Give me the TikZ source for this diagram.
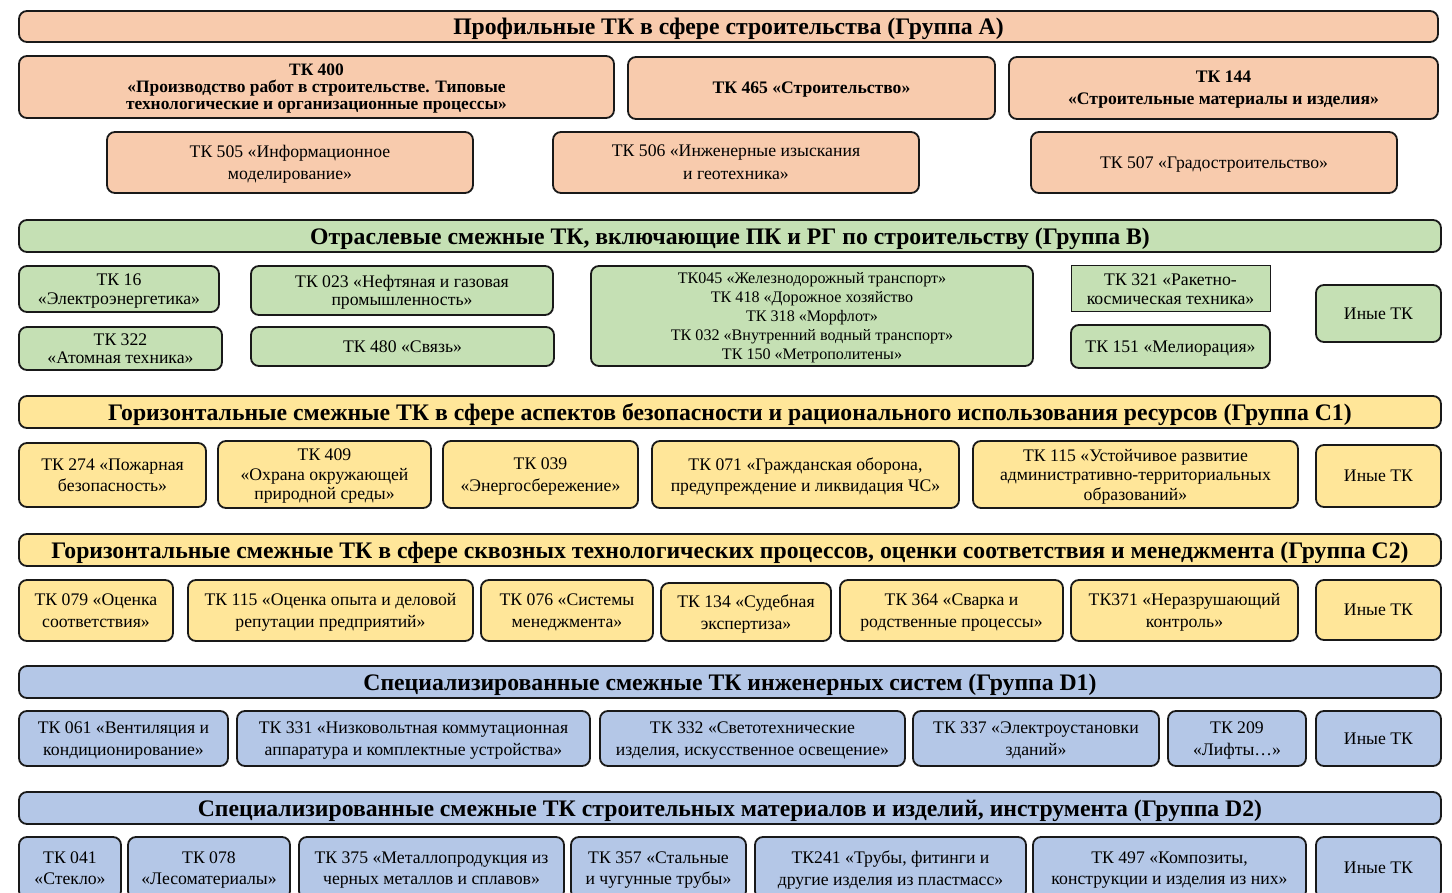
\documentclass[tikz,border=0pt]{standalone}
\usepackage{fontspec}
\setmainfont{Liberation Serif}
\usetikzlibrary{positioning}
\definecolor{grA}{HTML}{F8CBAD}
\definecolor{grB}{HTML}{C5E0B4}
\definecolor{grC}{HTML}{FFE699}
\definecolor{grD}{HTML}{B4C7E7}
\tikzset{
  tk/.style={draw=black!90, line width=1.8pt, rounded corners=8pt, align=center,
    inner sep=0pt, text depth=-2pt, font=\fontsize{17.7}{21.5}\selectfont},
  hdr/.style={tk, minimum width=1422, minimum height=32,
    font=\bfseries\fontsize{23.7}{26}\selectfont},
  tight/.style={font=\fontsize{17.7}{19.5}\selectfont},
  sz/.style 2 args={minimum width=#1, minimum height=#2}
}
\begin{document}
\begin{tikzpicture}[x=1pt, y=-1pt]
  \clip (0,0) rectangle (1452,893);

  % Group A
  \node [hdr, fill=grA, minimum width=1419, minimum height=31] (hA) at (728.5, 26.5) {Профильные ТК в сфере строительства (Группа А)};
  \node [tk, fill=grA, sz={595}{62}, font=\bfseries\fontsize{17.4}{17}\selectfont] (tk400) at (316.5, 87) {ТК 400\\«Производство работ в строительстве. Типовые\\технологические и организационные процессы»};
  \node [tk, fill=grA, sz={367}{62}, font=\bfseries\fontsize{17.6}{21}\selectfont] (tk465) at (811.5, 88) {ТК 465 «Строительство»};
  \node [tk, fill=grA, sz={429}{62}, font=\bfseries\fontsize{17.6}{22}\selectfont] (tk144) at (1223.5, 88) {ТК 144\\«Строительные материалы и изделия»};
  \node [tk, fill=grA, sz={366}{61}, font=\fontsize{17.7}{22}\selectfont] (tk505) at (290, 162.5) {ТК 505 «Информационное\\моделирование»};
  \node [tk, fill=grA, sz={366}{61}, font=\fontsize{17.7}{23}\selectfont] (tk506) at (736, 162.5) {ТК 506 «Инженерные изыскания\\и геотехника»};
  \node [tk, fill=grA, sz={366}{61}] (tk507) at (1214, 162.5) {ТК 507 «Градостроительство»};

  % Group B
  \node [hdr, fill=grB] (hB) at (730, 236) {Отраслевые смежные ТК, включающие ПК и РГ по строительству (Группа В)};
  \node [tk, fill=grB, sz={200}{46}, font=\fontsize{17.7}{19}\selectfont] (tk16) at (119, 289) {ТК 16\\«Электроэнергетика»};
  \node [tk, fill=grB, sz={203}{43}, font=\fontsize{17.7}{17.5}\selectfont] (tk322) at (120.5, 348.5) {ТК 322\\«Атомная техника»};
  \node [tk, fill=grB, sz={302}{49}, font=\fontsize{17.7}{18.5}\selectfont] (tk023) at (402, 290.5) {ТК 023 «Нефтяная и газовая\\промышленность»};
  \node [tk, fill=grB, sz={303}{39}] (tk480) at (402.5, 346.5) {ТК 480 «Связь»};
  \node [tk, fill=grB, sz={442}{100}, font=\fontsize{16.1}{19}\selectfont] (tk045) at (812, 316) {ТК045 «Железнодорожный транспорт»\\ТК 418 «Дорожное хозяйство\\ТК 318 «Морфлот»\\ТК 032 «Внутренний водный транспорт»\\ТК 150 «Метрополитены»};
  \node [tk, fill=grB, sz={199}{46}, rounded corners=0pt, line width=1pt, font=\fontsize{17.7}{18.5}\selectfont] (tk321) at (1170.5, 289) {ТК 321 «Ракетно-\\космическая техника»};
  \node [tk, fill=grB, sz={199}{43}] (tk151) at (1170.5, 346.5) {ТК 151 «Мелиорация»};
  \node [tk, fill=grB, sz={125}{57}] (othB) at (1378.5, 313.5) {Иные ТК};

  % Group C1
  \node [hdr, fill=grC] (hC1) at (730, 412) {Горизонтальные смежные ТК в сфере аспектов безопасности и рационального использования ресурсов (Группа С1)};
  \node [tk, fill=grC, sz={187}{64}] (tk274) at (112.5, 475) {ТК 274 «Пожарная\\безопасность»};
  \node [tk, fill=grC, sz={213}{67}, tight] (tk409) at (324.5, 474.5) {ТК 409\\«Охрана окружающей\\природной среды»};
  \node [tk, fill=grC, sz={195}{67}] (tk039) at (540.5, 474.5) {ТК 039\\«Энергосбережение»};
  \node [tk, fill=grC, sz={307}{67}] (tk071) at (805.5, 474.5) {ТК 071 «Гражданская оборона,\\предупреждение и ликвидация ЧС»};
  \node [tk, fill=grC, sz={325}{67}, tight] (tk115) at (1135.5, 474.5) {ТК 115 «Устойчивое развитие\\административно-территориальных\\образований»};
  \node [tk, fill=grC, sz={125}{62}] (othC1) at (1378.5, 476) {Иные ТК};

  % Group C2
  \node [hdr, fill=grC] (hC2) at (730, 550) {Горизонтальные смежные ТК в сфере сквозных технологических процессов, оценки соответствия и менеджмента (Группа С2)};
  \node [tk, fill=grC, sz={154}{61}] (tk079) at (96, 610.5) {ТК 079 «Оценка\\соответствия»};
  \node [tk, fill=grC, sz={285}{61}] (tk115b) at (330.5, 610.5) {ТК 115 «Оценка опыта и деловой\\репутации предприятий»};
  \node [tk, fill=grC, sz={172}{61}] (tk076) at (567, 610.5) {ТК 076 «Системы\\менеджмента»};
  \node [tk, fill=grC, sz={170}{58}] (tk134) at (746, 612) {ТК 134 «Судебная\\экспертиза»};
  \node [tk, fill=grC, sz={223}{61}] (tk364) at (951.5, 610.5) {ТК 364 «Сварка и\\родственные процессы»};
  \node [tk, fill=grC, sz={227}{61}] (tk371) at (1184.5, 610.5) {ТК371 «Неразрушающий\\контроль»};
  \node [tk, fill=grC, sz={125}{60}] (othC2) at (1378.5, 610) {Иные ТК};

  % Group D1
  \node [hdr, fill=grD] (hD1) at (730, 682) {Специализированные смежные ТК инженерных систем (Группа D1)};
  \node [tk, fill=grD, sz={209}{55}] (tk061) at (123.5, 738.5) {ТК 061 «Вентиляция и\\кондиционирование»};
  \node [tk, fill=grD, sz={353}{55}] (tk331) at (413.5, 738.5) {ТК 331 «Низковольтная коммутационная\\аппаратура и комплектные устройства»};
  \node [tk, fill=grD, sz={305}{55}] (tk332) at (752.5, 738.5) {ТК 332 «Светотехнические\\изделия, искусственное освещение»};
  \node [tk, fill=grD, sz={246}{55}] (tk337) at (1036, 738.5) {ТК 337 «Электроустановки\\зданий»};
  \node [tk, fill=grD, sz={138}{55}] (tk209) at (1237, 738.5) {ТК 209\\«Лифты…»};
  \node [tk, fill=grD, sz={125}{55}] (othD1) at (1378.5, 738.5) {Иные ТК};

  % Group D2
  \node [hdr, fill=grD] (hD2) at (730, 808) {Специализированные смежные ТК строительных материалов и изделий, инструмента (Группа D2)};
  \node [tk, fill=grD, sz={102}{62}] (tk041) at (70, 868) {ТК 041\\«Стекло»};
  \node [tk, fill=grD, sz={162}{62}] (tk078) at (209, 868) {ТК 078\\«Лесоматериалы»};
  \node [tk, fill=grD, sz={265}{62}] (tk375) at (431.5, 868) {ТК 375 «Металлопродукция из\\черных металлов и сплавов»};
  \node [tk, fill=grD, sz={175}{62}] (tk357) at (658.5, 868) {ТК 357 «Стальные\\и чугунные трубы»};
  \node [tk, fill=grD, sz={271}{62}] (tk241) at (890.5, 868) {ТК241 «Трубы, фитинги и\\другие изделия из пластмасс»};
  \node [tk, fill=grD, sz={273}{62}] (tk497) at (1169.5, 868) {ТК 497 «Композиты,\\конструкции и изделия из них»};
  \node [tk, fill=grD, sz={125}{62}] (othD2) at (1378.5, 868) {Иные ТК};
\end{tikzpicture}
\end{document}
